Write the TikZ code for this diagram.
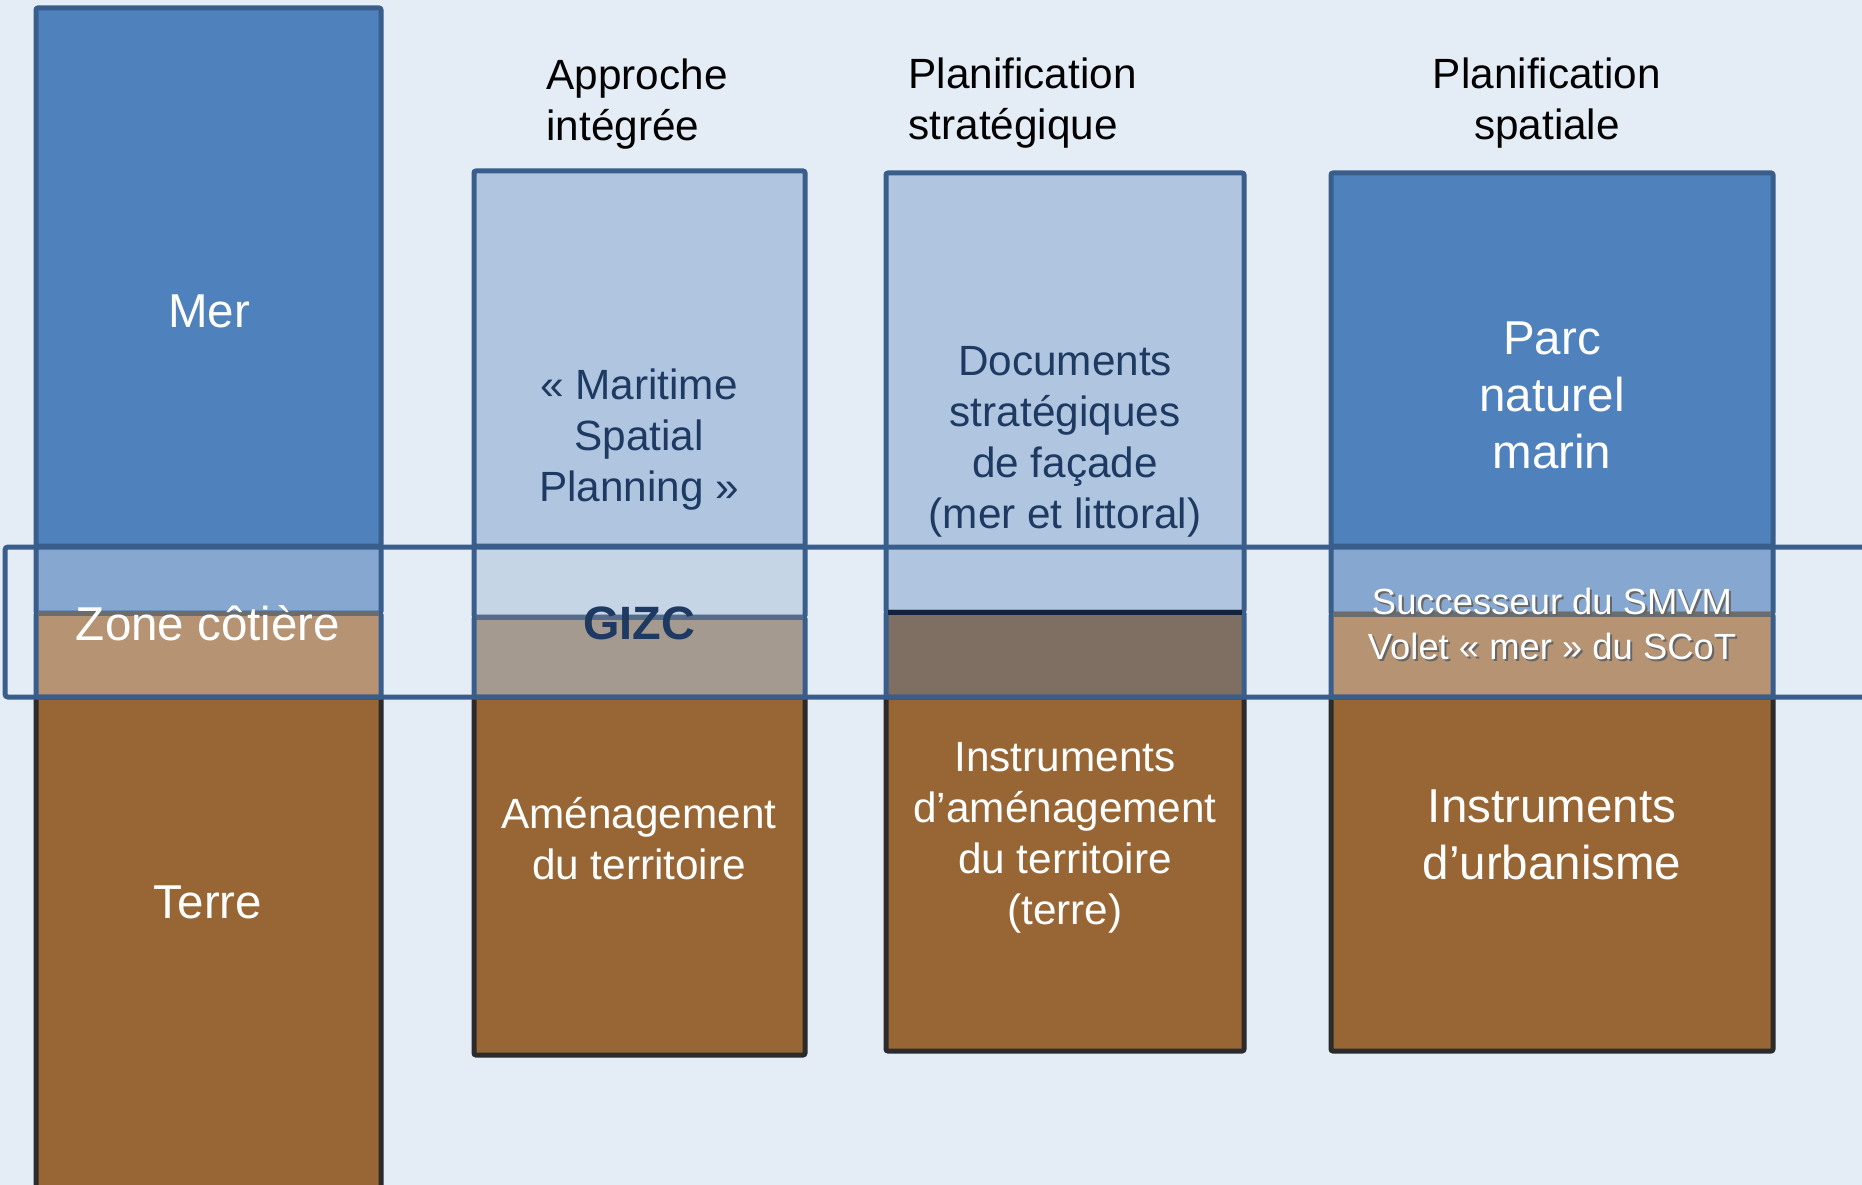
\documentclass[tikz,border=0pt]{standalone}
\usepackage{fontspec}
\setmainfont{Liberation Sans}
\usetikzlibrary{positioning}

\definecolor{bgcol}{HTML}{E4ECF6}
\definecolor{sea}{HTML}{4F81BD}
\definecolor{sealight}{HTML}{B0C6E0}
\definecolor{coastblue}{HTML}{86A7CF}
\definecolor{coastpale}{HTML}{C5D5E6}
\definecolor{tan}{HTML}{B59373}
\definecolor{taupe}{HTML}{A59A90}
\definecolor{mud}{HTML}{7F6F62}
\definecolor{land}{HTML}{986634}
\definecolor{edgeblue}{HTML}{3A5E8C}
\definecolor{edgedark}{HTML}{2B2B2B}
\definecolor{navy}{HTML}{1E3A62}

\begin{document}
\begin{tikzpicture}[x=1pt, y=-1pt, line width=5pt]
    \tikzstyle{seaedge}=[draw=edgeblue, rounded corners=2pt]
    \tikzstyle{landedge}=[draw=edgedark, rounded corners=2pt]
    \tikzstyle{txt}=[font=\fontsize{42.3}{51}\selectfont, align=center, inner sep=0pt]
    \tikzstyle{big}=[font=\fontsize{47.5}{57}\selectfont, align=center, inner sep=0pt, text=white]
    \tikzstyle{small}=[font=\fontsize{36.4}{45}\selectfont, align=center, inner sep=0pt]

    \fill[bgcol] (0,0) rectangle (1862,1185);
    \clip (0,0) rectangle (1862,1185);

    % column 1
    \filldraw[fill=land, landedge] (36,697) rectangle (381,1220);
    \filldraw[fill=tan, seaedge] (36,613) rectangle (381,697);
    \filldraw[fill=coastblue, seaedge] (36,546) rectangle (381,613);
    \filldraw[fill=sea, seaedge] (36,8) rectangle (381,546);
    \draw[color=gray!85!black] (38,613) -- (379,613);

    % column 2
    \filldraw[fill=land, landedge] (474,697) rectangle (805,1055);
    \filldraw[fill=taupe, seaedge] (474,617) rectangle (805,697);
    \filldraw[fill=coastpale, seaedge] (474,546) rectangle (805,617);
    \filldraw[fill=sealight, seaedge] (474,171) rectangle (805,546);
    \draw[color=edgeblue!60!gray] (476,617) -- (803,617);

    % column 3
    \filldraw[fill=land, landedge] (886,697) rectangle (1244,1051);
    \filldraw[fill=mud, seaedge] (886,612) rectangle (1244,697);
    \filldraw[fill=sealight, seaedge] (886,173) rectangle (1244,612);
    \draw[color=navy!60!black] (888,612) -- (1242,612);

    % column 4
    \filldraw[fill=land, landedge] (1331,697) rectangle (1773,1051);
    \filldraw[fill=tan, seaedge] (1331,614) rectangle (1773,697);
    \filldraw[fill=coastblue, seaedge] (1331,546) rectangle (1773,614);
    \filldraw[fill=sea, seaedge] (1331,173) rectangle (1773,546);
    \draw[color=gray!85!black] (1333,614) -- (1771,614);

    % coastal band
    \draw[edgeblue, rounded corners=3pt] (5,547) rectangle (1890,697);

    % headers
    \node[txt, align=left, anchor=west] (hdgizc) at (544,104) {Approche\\intégrée};
    \node[txt, align=left, anchor=west] (hdstrat) at (906,103) {Planification\\stratégique};
    \node[txt] (hdspat) at (1547,103) {Planification\\spatiale};

    % column 1 labels
    \node[big] (mer) at (209,311) {Mer};
    \node[big] (cote) at (208,623) {Zone côtière};
    \node[big] (terre) at (208,902) {Terre};

    % column 2 labels
    \node[txt, text=navy] (msp) at (639,440) {« Maritime\\Spatial\\Planning »};
    \node[font=\fontsize{46.8}{56}\bfseries\selectfont, text=navy, inner sep=0pt] (gizc) at (639,623) {GIZC};
    \node[txt, text=white] (amenag) at (639,839) {Aménagement\\du territoire};

    % column 3 labels
    \node[txt, text=navy] (dsf) at (1065,442) {Documents\\stratégiques\\de façade\\(mer et littoral)};
    \node[txt, text=white] (instr) at (1065,838) {Instruments\\d’aménagement\\du territoire\\(terre)};

    % column 4 labels
    \node[big] (pnm) at (1552,395) {Parc\\naturel\\marin};
    \node[small, text=black!60] (smvmshadow) at (1554,626) {Successeur du SMVM\\Volet « mer » du SCoT};
    \node[small, text=white] (smvm) at (1552,624) {Successeur du SMVM\\Volet « mer » du SCoT};
    \node[big] (urba) at (1552,835) {Instruments\\d’urbanisme};
\end{tikzpicture}
\end{document}
